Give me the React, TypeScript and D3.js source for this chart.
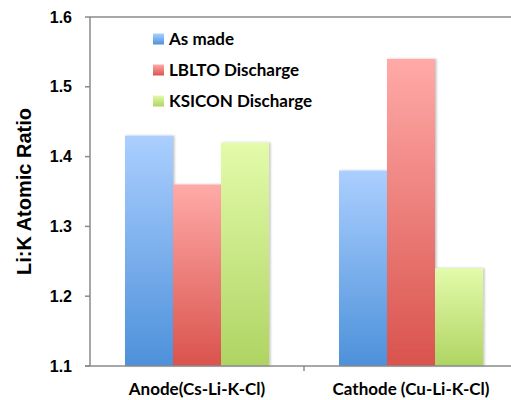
import React from "react";
import * as d3 from "d3";

const categories = ["Anode(Cs-Li-K-Cl)", "Cathode (Cu-Li-K-Cl)"];
const seriesNames = ["As made", "LBLTO Discharge", "KSICON Discharge"];
const asMade = [1.43, 1.38];
const lbltoDischarge = [1.36, 1.54];
const ksiconDischarge = [1.42, 1.24];
const yTicks = [1.1, 1.2, 1.3, 1.4, 1.5, 1.6];

const seriesValues = [asMade, lbltoDischarge, ksiconDischarge];
const gradients = [
  { id: "gBlue", top: "#abcfff", bottom: "#4d91da" },
  { id: "gRed", top: "#ffaaa8", bottom: "#d9534d" },
  { id: "gGreen", top: "#e3fbaa", bottom: "#afd463" },
];

const W = 511;
const H = 400;
const left = 90;
const right = 518;
const top = 17;
const bottom = 366;

export default function App() {
  const y = d3.scaleLinear().domain([1.1, 1.6]).range([bottom, top]);
  const x0 = d3.scaleBand<string>().domain(categories).range([left, right]).padding(0);
  const x1 = d3
    .scaleBand<string>()
    .domain(seriesNames)
    .range([0, x0.bandwidth()])
    .paddingInner(0)
    .paddingOuter(0.729);

  const calibri = "Lato, 'Open Sans', sans-serif";
  const arial = "'Liberation Sans', Arial, sans-serif";

  return (
    <svg
      width={W}
      height={H}
      style={{ position: "fixed", left: 0, top: 0, background: "#fff" }}
    >
      <defs>
        {gradients.map((g) => (
          <linearGradient key={g.id} id={g.id} x1="0" y1="0" x2="0" y2="1">
            <stop offset="0" stopColor={g.top} />
            <stop offset="1" stopColor={g.bottom} />
          </linearGradient>
        ))}
        <filter id="shadow" x="-20%" y="-5%" width="140%" height="110%">
          <feDropShadow dx="1.5" dy="0" stdDeviation="1" floodColor="#000" floodOpacity="0.25" />
        </filter>
      </defs>

      {/* bars */}
      {categories.map((c, ci) =>
        seriesNames.map((s, si) => {
          const v = seriesValues[si][ci];
          const bx = (x0(c) ?? 0) + (x1(s) ?? 0);
          return (
            <rect
              key={c + s}
              x={bx}
              y={y(v)}
              width={x1.bandwidth()}
              height={bottom - y(v)}
              fill={`url(#${gradients[si].id})`}
              filter="url(#shadow)"
            />
          );
        })
      )}

      {/* frame lines */}
      <line x1={left} x2={W} y1={top} y2={top} stroke="#8a8a8a" strokeWidth={1.5} />
      <line x1={left} x2={left} y1={top} y2={bottom} stroke="#8a8a8a" strokeWidth={1.5} />
      <line x1={left - 5} x2={W} y1={bottom} y2={bottom} stroke="#8a8a8a" strokeWidth={1.5} />

      {/* y ticks */}
      {yTicks.map((t) => (
        <g key={t}>
          <line x1={left - 5} x2={left} y1={y(t)} y2={y(t)} stroke="#8a8a8a" strokeWidth={1.5} />
          <text
            x={72}
            y={y(t)}
            dy="0.35em"
            textAnchor="end"
            fontFamily={arial}
            fontWeight="bold"
            fontSize={16}
            fill="#000"
          >
            {t.toFixed(1)}
          </text>
        </g>
      ))}

      {/* category ticks */}
      {categories.map((c, i) => (
        <g key={c}>
          {i > 0 && (
            <line
              x1={x0(c) ?? 0}
              x2={x0(c) ?? 0}
              y1={bottom}
              y2={bottom + 5}
              stroke="#8a8a8a"
              strokeWidth={1.5}
            />
          )}
          <text
            x={(x0(c) ?? 0) + x0.bandwidth() / 2}
            y={389}
            dy="0.35em"
            textAnchor="middle"
            fontFamily={calibri}
            fontWeight="bold"
            fontSize={17}
            fill="#000"
          >
            {c}
          </text>
        </g>
      ))}

      {/* y title */}
      <text
        transform={`translate(24,${(top + bottom) / 2}) rotate(-90)`}
        textAnchor="middle"
        dy="0.35em"
        fontFamily={arial}
        fontWeight="bold"
        fontSize={20}
        fill="#000"
      >
        Li:K Atomic Ratio
      </text>

      {/* legend */}
      {seriesNames.map((s, i) => {
        const cy = 39 + i * 31;
        return (
          <g key={s}>
            <rect
              x={153}
              y={cy - 5.5}
              width={11}
              height={11}
              fill={`url(#${gradients[i].id})`}
            />
            <text
              x={169}
              y={cy}
              dy="0.35em"
              fontFamily={calibri}
              fontWeight="bold"
              fontSize={17}
              fill="#000"
            >
              {s}
            </text>
          </g>
        );
      })}
    </svg>
  );
}
